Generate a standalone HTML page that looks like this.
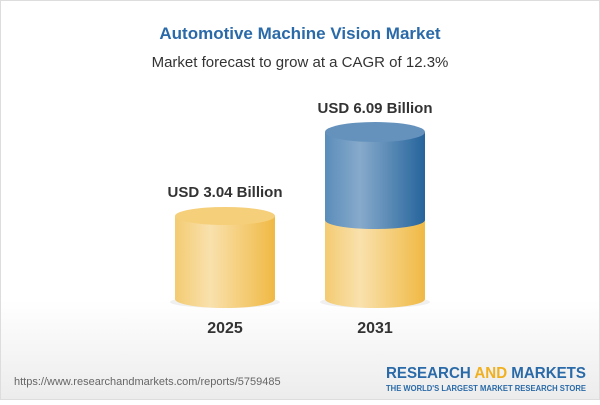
<!DOCTYPE html>
<html><head><style>
body{margin:0;width:600px;height:400px;overflow:hidden;font-family:"Liberation Sans",sans-serif;}
</style></head><body>
<svg width="600" height="400" xmlns="http://www.w3.org/2000/svg">
<defs>
<linearGradient id="bgg" x1="0" y1="0" x2="0" y2="1"><stop offset="0" stop-color="#fff"/><stop offset="0.75" stop-color="#fff"/><stop offset="1" stop-color="#ececec"/></linearGradient>
<linearGradient id="yel" x1="0" x2="1"><stop offset="0" stop-color="#f3cb72"/><stop offset="0.35" stop-color="#f9e1ad"/><stop offset="1" stop-color="#f0b944"/></linearGradient>
<linearGradient id="blu" x1="0" x2="1"><stop offset="0" stop-color="#5a8dba"/><stop offset="0.35" stop-color="#87aacb"/><stop offset="1" stop-color="#25649c"/></linearGradient>
</defs>
<rect width="600" height="400" fill="url(#bgg)"/>
<rect x="0.5" y="0.5" width="599" height="399" fill="none" stroke="#ddd"/>
<text x="300" y="39" text-anchor="middle" font-size="17" font-weight="bold" fill="#2a6aa8">Automotive Machine Vision Market</text>
<text x="300" y="67" text-anchor="middle" font-size="15" fill="#333">Market forecast to grow at a CAGR of 12.3%</text>
<ellipse cx="225" cy="302" rx="55" ry="6" fill="#000" opacity="0.06"/>
<ellipse cx="375" cy="302" rx="55" ry="6" fill="#000" opacity="0.06"/>
<path d="M175 216 V299 A50 9 0 0 0 275 299 V216 Z" fill="url(#yel)"/>
<ellipse cx="225" cy="216" rx="50" ry="9" fill="#f5cf7a"/>
<path d="M325 220 V299 A50 9 0 0 0 425 299 V220 Z" fill="url(#yel)"/>
<path d="M325 132 V220 A50 9 0 0 0 425 220 V132 Z" fill="url(#blu)"/>
<ellipse cx="375" cy="132" rx="50" ry="10" fill="#6592bd"/>
<text x="225" y="197" text-anchor="middle" font-size="15" font-weight="bold" fill="#333">USD 3.04 Billion</text>
<text x="375" y="113" text-anchor="middle" font-size="15" font-weight="bold" fill="#333">USD 6.09 Billion</text>
<text x="225" y="333" text-anchor="middle" font-size="16" font-weight="bold" fill="#333">2025</text>
<text x="375" y="333" text-anchor="middle" font-size="16" font-weight="bold" fill="#333">2031</text>
<text x="14" y="385" font-size="11" fill="#666">https://www.researchandmarkets.com/reports/5759485</text>
<text x="386" y="378" font-size="15.5" font-weight="bold" fill="#2a6aa8" textLength="200" lengthAdjust="spacingAndGlyphs">RESEARCH <tspan fill="#f0b020">AND</tspan> MARKETS</text>
<text x="386" y="391" font-size="8" font-weight="bold" fill="#2a6aa8" textLength="200" lengthAdjust="spacingAndGlyphs">THE WORLD'S LARGEST MARKET RESEARCH STORE</text>
</svg>
</body></html>
